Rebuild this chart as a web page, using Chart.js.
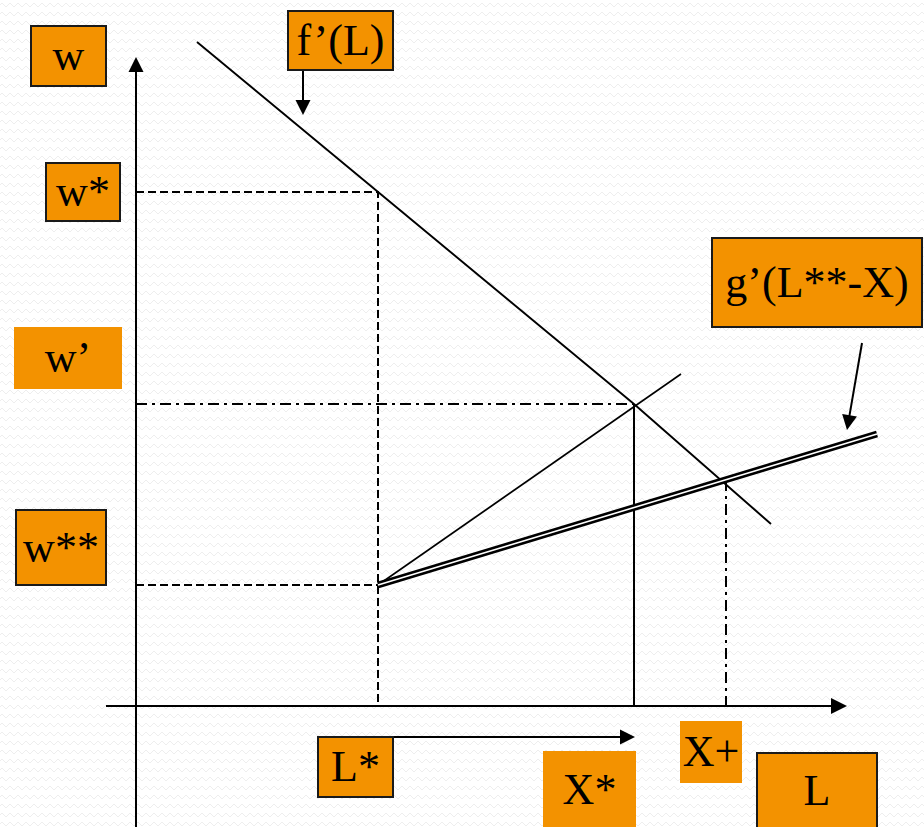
<!DOCTYPE html>
<html>
<head>
<meta charset="utf-8">
<script src="https://cdn.jsdelivr.net/npm/chart.js@4.4.0/dist/chart.umd.min.js"></script>
<style>
    html, body { margin: 0; padding: 0; }
    body {
        width: 924px; height: 827px; overflow: hidden; position: relative;
        background: #fff url("data:image/svg+xml,%3Csvg xmlns='http://www.w3.org/2000/svg' width='8' height='9'%3E%3Cpath d='M0 5 L2 3 L4 5 L6 7 L8 5' fill='none' stroke='%23eeeeee' stroke-width='1'/%3E%3C/svg%3E");
    }
    #c { position: absolute; left: 0; top: 0; }
    .lbl {
        position: absolute; box-sizing: border-box;
        background: #f39200; color: #000;
        font-family: "Liberation Serif", "Times New Roman", serif;
        font-size: 44px; line-height: 1;
        display: flex; align-items: center; justify-content: center;
        white-space: nowrap;
    }
    .bd { border: 2px solid #1a1a1a; }
</style>
</head>
<body>
<canvas id="c" width="924" height="827"></canvas>

<div class="lbl bd" style="left:30px;top:25px;width:77px;height:62px;">w</div>
<div class="lbl bd" style="left:287px;top:10px;width:107px;height:61px;">f’(L)</div>
<div class="lbl bd" style="left:45px;top:162px;width:76px;height:60px;">w*</div>
<div class="lbl" style="left:14px;top:327px;width:108px;height:62px;">w’</div>
<div class="lbl bd" style="left:15px;top:509px;width:92px;height:77px;">w**</div>
<div class="lbl bd" style="left:711px;top:237px;width:212px;height:91px;">g’(L**-X)</div>
<div class="lbl bd" style="left:317px;top:736px;width:77px;height:62px;">L*</div>
<div class="lbl" style="left:543px;top:751px;width:93px;height:78px;">X*</div>
<div class="lbl" style="left:680px;top:721px;width:62px;height:62px;">X+</div>
<div class="lbl bd" style="left:756px;top:752px;width:122px;height:78px;">L</div>

<script>
// Key quantities (L on the horizontal axis, w on the vertical axis)
const Lstar = 242;
const Xstar = 498;
const Xplus = 590;
const wStar = 514;
const wPrime = 302;
const wStarStar = 121;
const wPlus = 226;

// Curves
const fPrimeL = [61, Xstar, 635];
const fPrimeW = [664, wPrime, 182];
const rayL = [Lstar, 545];
const rayW = [wStarStar, 332];
const gPrimeL = [Lstar, 741];
const gPrimeW = [wStarStar, 272];

// Axes extents (arrow tips)
const axisL = [-30, 711];
const axisW = [-121, 649];

// Pointer arrows: [fromL, fromW, toL, toW]
const fArrow = [167, 635, 167, 591];
const gArrow = [726, 363, 711, 276];
const shiftArrow = [229, -31, 499, -31];

const pts = (xs, ys) => xs.map((x, i) => ({ x: x, y: ys[i] }));
const ARROW = 15;

function line(data, opts) {
    return Object.assign({
        type: 'line',
        data: data,
        borderColor: '#000',
        borderWidth: 1.8,
        pointRadius: 0,
        fill: false,
        tension: 0,
        order: 5
    }, opts || {});
}

// Arrowheads and pointer arrows drawn through the chart scales
const arrowPlugin = {
    id: 'arrows',
    afterDatasetsDraw(chart) {
        const ctx = chart.ctx;
        const sx = chart.scales.x, sy = chart.scales.y;
        const head = (x0, y0, x1, y1, size) => {
            const a = Math.atan2(y1 - y0, x1 - x0);
            ctx.beginPath();
            ctx.moveTo(x1, y1);
            ctx.lineTo(x1 - size * Math.cos(a) + size / 2 * Math.sin(a), y1 - size * Math.sin(a) - size / 2 * Math.cos(a));
            ctx.lineTo(x1 - size * Math.cos(a) - size / 2 * Math.sin(a), y1 - size * Math.sin(a) + size / 2 * Math.cos(a));
            ctx.closePath();
            ctx.fill();
        };
        ctx.save();
        ctx.fillStyle = '#000';
        ctx.strokeStyle = '#000';

        // axis arrowheads
        head(sx.getPixelForValue(0), sy.getPixelForValue(0), sx.getPixelForValue(axisL[1]), sy.getPixelForValue(0), 16);
        head(sx.getPixelForValue(0), sy.getPixelForValue(0), sx.getPixelForValue(0), sy.getPixelForValue(axisW[1]), 15);

        // pointer arrows
        [fArrow, gArrow, shiftArrow].forEach(a => {
            const x0 = sx.getPixelForValue(a[0]), y0 = sy.getPixelForValue(a[1]);
            const x1 = sx.getPixelForValue(a[2]), y1 = sy.getPixelForValue(a[3]);
            const len = Math.hypot(x1 - x0, y1 - y0);
            const ex = x1 - (x1 - x0) / len * (ARROW - 2), ey = y1 - (y1 - y0) / len * (ARROW - 2);
            ctx.lineWidth = 2;
            ctx.beginPath();
            ctx.moveTo(x0, y0);
            ctx.lineTo(ex, ey);
            ctx.stroke();
            head(x0, y0, x1, y1, ARROW);
        });
        ctx.restore();
    }
};

new Chart(document.getElementById('c'), {
    type: 'scatter',
    data: {
        datasets: [
            // axes
            line(pts([axisL[0], axisL[1] - 16], [0, 0]), { borderWidth: 2.2 }),
            line(pts([0, 0], [axisW[0], axisW[1] - 15]), { borderWidth: 2 }),
            // f'(L)
            line(pts(fPrimeL, fPrimeW), { borderWidth: 1.9 }),
            // ray from (L*, w**)
            line(pts(rayL, rayW), { borderWidth: 1.6 }),
            // g'(L**-X) double line: inner gap on top of a thick stroke
            line(pts(gPrimeL, gPrimeW), { borderColor: '#ffffff', borderWidth: 1.8, order: 1 }),
            line(pts(gPrimeL, gPrimeW), { borderWidth: 6.6, order: 2 }),
            // guides
            line(pts([0, Lstar, Lstar], [wStar, wStar, 0]), { borderDash: [8, 4], borderWidth: 2 }),
            line(pts([0, Lstar], [wStarStar, wStarStar]), { borderDash: [8, 4], borderWidth: 2 }),
            line(pts([0, Xstar], [wPrime, wPrime]), { borderDash: [11, 5, 3, 5], borderWidth: 2 }),
            line(pts([Xstar, Xstar], [wPrime, 0]), { borderWidth: 2 }),
            line(pts([Xplus, Xplus], [wPlus, 0]), { borderDash: [11, 5, 3, 5], borderWidth: 2 })
        ]
    },
    options: {
        responsive: false,
        animation: false,
        layout: { padding: 0 },
        plugins: {
            legend: { display: false },
            tooltip: { enabled: false }
        },
        scales: {
            x: { type: 'linear', min: -136, max: 788, display: false },
            y: { type: 'linear', min: -121, max: 706, display: false }
        }
    },
    plugins: [arrowPlugin]
});
</script>
</body>
</html>
